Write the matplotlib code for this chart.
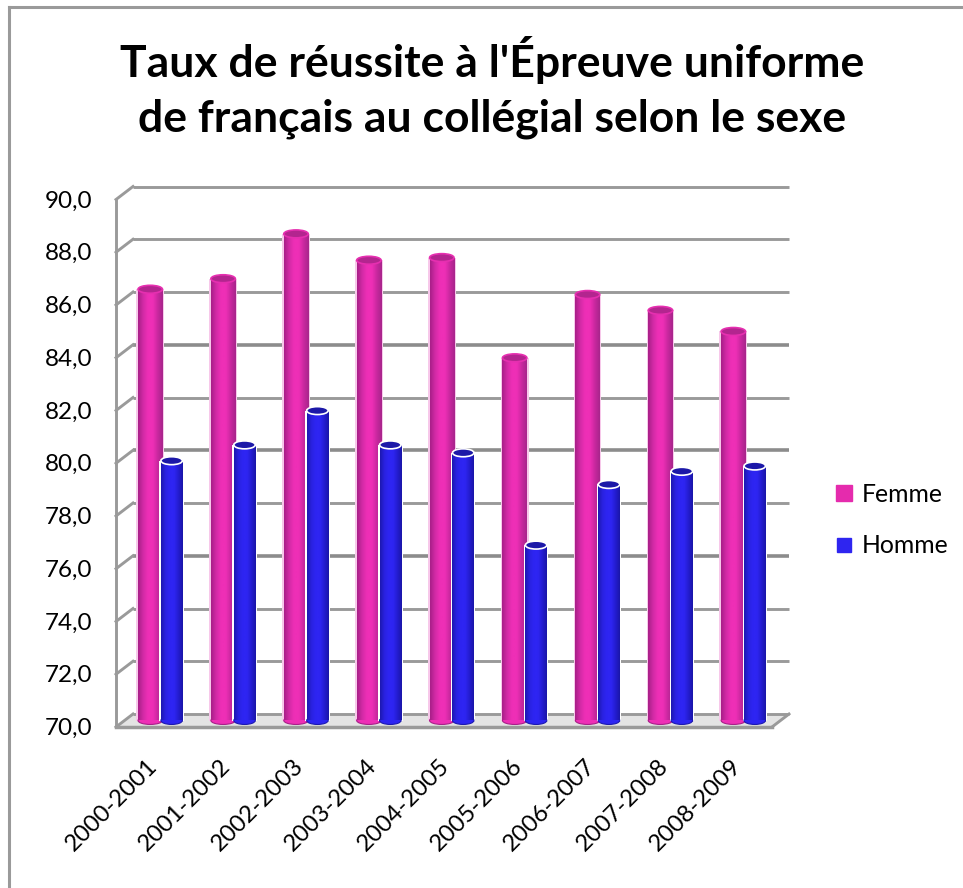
#!/usr/bin/env python3
# -*- coding: utf-8 -*-
import matplotlib
matplotlib.use('Agg')
import matplotlib.pyplot as plt
import matplotlib.transforms as mtrans
from matplotlib.colors import LinearSegmentedColormap
from matplotlib.lines import Line2D
from matplotlib.patches import Ellipse, Polygon
import numpy as np

years = ['2000-2001', '2001-2002', '2002-2003', '2003-2004', '2004-2005',
         '2005-2006', '2006-2007', '2007-2008', '2008-2009']
femme = [86.35, 86.75, 88.45, 87.45, 87.55, 83.75, 86.15, 85.55, 84.75]
homme = [79.85, 80.45, 81.75, 80.45, 80.15, 76.65, 78.95, 79.45, 79.65]
y_ticks = [70, 72, 74, 76, 78, 80, 82, 84, 86, 88, 90]
y_labels = ['70,0', '72,0', '74,0', '76,0', '78,0', '80,0', '82,0', '84,0', '86,0', '88,0', '90,0']
title = "Taux de réussite à l'Épreuve uniforme\nde français au collégial selon le sexe"

W, H = 963, 888
GRID = '#9a9a9a'
plt.rcParams['font.family'] = ['Lato', 'DejaVu Sans']

fig = plt.figure(figsize=(W / 100, H / 100), dpi=100)
ax = fig.add_axes([124.5 / W, 1 - 720.5 / H, 656 / W, 527.5 / H])
ax.set_xlim(0, 9)
ax.set_ylim(70, 90)
ax.patch.set_visible(False)
for s in ax.spines.values():
    s.set_visible(False)
ident = mtrans.IdentityTransform()


def px(dx, dy):
    return mtrans.offset_copy(ax.transData, fig=fig, x=dx, y=dy, units='dots')


def depth_line(x0, v, color, width, z):
    # short diagonal going from the front plane to the back wall
    p = ax.transData.transform((x0, v))
    ax.add_line(Line2D([p[0] - 8.5, p[0] + 8.5], [p[1] - 6.5, p[1] + 6.5], transform=ident,
                       color=color, lw=width, zorder=z, clip_on=False))


# floor, then walls with a small depth offset
corners = ax.transData.transform([(0, 70), (9, 70)])
fl = np.array([corners[0] + [-8.5, -6.5], corners[1] + [-8.5, -6.5],
               corners[1] + [8.5, 6.5], corners[0] + [8.5, 6.5]])
ax.add_patch(Polygon(fl, closed=True, transform=ident, fc='#e4e4e4', ec='none', zorder=1, clip_on=False))

lw = 2.1
for v, lab in zip(y_ticks, y_labels):
    w = lw + 0.5 if v in (76, 80, 84) else lw
    c = '#8c8c8c' if v in (76, 80, 84) else GRID
    ax.plot([0, 9], [v, v], transform=px(8.5, 6.5), color=c, lw=w, zorder=2,
            solid_capstyle='butt', clip_on=False)
    depth_line(0, v, GRID, lw, 2)
    ax.text(0, v, lab, transform=px(-32, -8), ha='right', va='center', fontsize=17.5, color='black')
ax.plot([0, 0], [70, 90], transform=px(-8.5, -6.5), color=GRID, lw=lw, zorder=2, clip_on=False)
ax.plot([0, 9], [70, 70], transform=px(-8.5, -6.5), color=GRID, lw=lw + 0.4, zorder=4, clip_on=False)
depth_line(9, 70, GRID, lw, 2)

pink = LinearSegmentedColormap.from_list('pink', ['#a81f88', '#d22aa6', '#ee2fb6', '#ee2fb6', '#c9289f', '#a8258c'])
blue = LinearSegmentedColormap.from_list('blue', ['#1c18b0', '#2a22e0', '#2e25f2', '#2e25f2', '#241cd0', '#1a16a8'])
grad = np.linspace(0, 1, 64).reshape(1, -1)


def cylinders(xs, vals, width, cmap, halo, top_fc, top_ec, z):
    ell_h = 0.3
    for x, v in zip(xs, vals):
        ax.bar(x, v - 70, width * 1.14, bottom=70, color=halo, zorder=z)
        ax.add_patch(Ellipse((x, 70), width, ell_h, fc=cmap(0.5), ec=cmap(0.0), lw=0.8, zorder=z + 1, clip_on=False))
        b = ax.bar(x, v - 70, width, bottom=70, color='none', zorder=z + 1)[0]
        im = ax.imshow(grad, extent=[x - width / 2, x + width / 2, 70, v], aspect='auto',
                       cmap=cmap, zorder=z + 1, interpolation='bilinear')
        im.set_clip_path(b)
        ax.add_patch(Ellipse((x, v), width, ell_h, fc=top_fc, ec=top_ec, lw=1.2, zorder=z + 2))


x = np.arange(9) + 0.5
cylinders(x - 0.147, femme, 0.335, pink, '#f7c8ea', '#b3258f', '#e62fb0', 5)
cylinders(x + 0.147, homme, 0.295, blue, '#ffffff', '#1c18a8', '#ffffff', 8)
ax.set_xlim(0, 9)
ax.set_ylim(70, 90)

ax.set_yticks([])
ax.set_xticks([])
for xi, lab in zip(x, years):
    ax.text(xi, 70, lab, transform=px(-14, -35), rotation=45, ha='right', va='top',
            rotation_mode='anchor', fontsize=17.2, color='black')

fig.text(492 / W, 1 - 87.5 / H, title, ha='center', va='center', fontsize=32, fontweight='bold',
         color='black', linespacing=1.45)

handles = [Line2D([], [], ls='none', marker='s', ms=11.5, color='#e52bad', label='Femme'),
           Line2D([], [], ls='none', marker='s', ms=9.5, color='#2e25f0', label='Homme')]
fig.legend(handles=handles, loc='center left', bbox_to_anchor=(832 / W, 1 - 520 / H), frameon=False,
           fontsize=17.8, labelspacing=1.15, handlelength=1.0, handletextpad=0.2, borderpad=0, borderaxespad=0)

fig.add_artist(Line2D([9 / W, 9 / W], [0, 1 - 7.5 / H], color=GRID, lw=2.2, solid_capstyle='projecting'))
fig.add_artist(Line2D([9 / W, 1], [1 - 7.5 / H, 1 - 7.5 / H], color=GRID, lw=2.2, solid_capstyle='projecting'))

fig.savefig('out.png', dpi=100)
